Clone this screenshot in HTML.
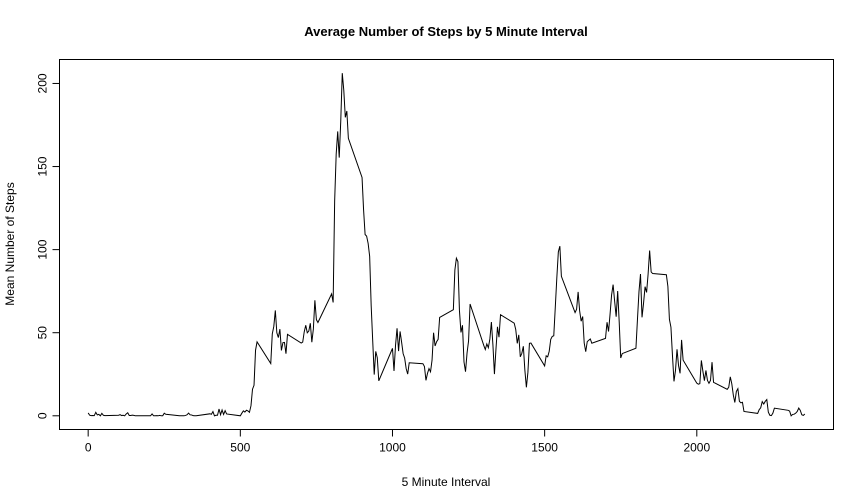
<!DOCTYPE html>
<html><head><meta charset="utf-8"><style>
body{margin:0;background:#fff}
svg{font-family:"Liberation Sans",Arial,sans-serif;display:block}
</style></head><body>
<svg id="chart" width="864" height="504">
<rect width="864" height="504" fill="#fff"/>
<text x="446" y="36" text-anchor="middle" font-size="13" font-weight="bold">Average Number of Steps by 5 Minute Interval</text>
<text x="446" y="486" text-anchor="middle" font-size="12">5 Minute Interval</text>
<text transform="translate(14,244) rotate(-90)" text-anchor="middle" font-size="12">Mean Number of Steps</text>
<rect x="59.5" y="59.5" width="774" height="370" fill="none" stroke="#000"/>
<g id="xaxis"></g>
<g id="yaxis"></g>
<g id="series"></g>
</svg>
<script>
const intervals=[0,5,10,15,20,25,30,35,40,45,50,55,100,105,110,115,120,125,130,135,140,145,150,155,200,205,210,215,220,225,230,235,240,245,250,255,300,305,310,315,320,325,330,335,340,345,350,355,400,405,410,415,420,425,430,435,440,445,450,455,500,505,510,515,520,525,530,535,540,545,550,555,600,605,610,615,620,625,630,635,640,645,650,655,700,705,710,715,720,725,730,735,740,745,750,755,800,805,810,815,820,825,830,835,840,845,850,855,900,905,910,915,920,925,930,935,940,945,950,955,1000,1005,1010,1015,1020,1025,1030,1035,1040,1045,1050,1055,1100,1105,1110,1115,1120,1125,1130,1135,1140,1145,1150,1155,1200,1205,1210,1215,1220,1225,1230,1235,1240,1245,1250,1255,1300,1305,1310,1315,1320,1325,1330,1335,1340,1345,1350,1355,1400,1405,1410,1415,1420,1425,1430,1435,1440,1445,1450,1455,1500,1505,1510,1515,1520,1525,1530,1535,1540,1545,1550,1555,1600,1605,1610,1615,1620,1625,1630,1635,1640,1645,1650,1655,1700,1705,1710,1715,1720,1725,1730,1735,1740,1745,1750,1755,1800,1805,1810,1815,1820,1825,1830,1835,1840,1845,1850,1855,1900,1905,1910,1915,1920,1925,1930,1935,1940,1945,1950,1955,2000,2005,2010,2015,2020,2025,2030,2035,2040,2045,2050,2055,2100,2105,2110,2115,2120,2125,2130,2135,2140,2145,2150,2155,2200,2205,2210,2215,2220,2225,2230,2235,2240,2245,2250,2255,2300,2305,2310,2315,2320,2325,2330,2335,2340,2345,2350,2355];
const meanSteps=[1.72,0.34,0.13,0.15,0.08,2.09,0.53,0.87,0,1.47,0.3,0.13,0.32,0.68,0.15,0.34,0,1.11,1.83,0.17,0.17,0.38,0.26,0,0,0,1.13,0,0,0.13,0,0.23,0,0,1.55,0.94,0,0,0,0,0.21,0.62,1.62,0.58,0.49,0.08,0,0,1.19,0.94,2.57,0,0.34,0.36,4.11,0.66,3.49,0.83,3.11,1.11,0,1.57,3,2.25,3.32,2.96,2.09,6.06,16.02,18.34,39.45,44.49,31.49,49.26,53.77,63.45,49.96,47.08,52.15,39.34,44.02,44.17,37.36,49.04,43.81,44.38,50.51,54.51,49.92,50.98,55.68,44.32,52.26,69.55,57.85,56.15,73.38,68.21,129.43,157.53,171.15,155.4,177.3,206.17,195.92,179.57,183.4,167.02,143.45,124.04,109.11,108.11,103.72,95.96,66.21,45.23,24.79,38.75,34.98,21.06,40.57,26.98,42.42,52.66,38.92,50.79,44.28,37.42,34.7,28.34,25.09,31.94,31.36,29.68,21.32,25.55,28.38,26.47,33.43,49.98,42.04,44.6,46.04,59.19,63.87,87.7,94.85,92.77,63.4,50.17,54.47,32.42,26.53,37.74,45.06,67.28,42.34,39.89,43.26,40.98,46.25,56.43,42.75,25.13,39.96,53.55,47.32,60.81,55.75,51.96,43.58,48.7,35.47,37.55,41.85,27.51,17.11,26.08,43.62,43.77,30.02,36.08,35.49,38.85,45.96,47.75,48.13,65.32,82.91,98.66,102.11,83.96,62.13,64.13,74.55,63.17,56.91,59.77,43.87,38.57,44.66,45.45,46.21,43.68,46.62,56.3,50.72,61.23,72.72,78.94,68.94,59.66,75.09,56.51,34.77,37.45,40.68,58.02,74.7,85.32,59.26,67.77,77.7,74.25,85.34,99.45,86.58,85.6,84.87,77.83,58.04,53.36,36.32,20.72,27.4,40.02,30.21,25.55,45.66,33.53,19.62,19.02,19.34,33.34,26.81,21.17,27.3,21.34,19.55,21.32,32.3,20.15,15.94,17.23,23.45,19.25,12.45,8.02,14.66,16.3,8.68,7.79,8.13,2.62,1.45,3.68,4.81,8.51,7.08,8.7,9.75,2.21,0.32,0.11,1.6,4.6,3.3,2.85,0,0.83,0.96,1.58,2.6,4.7,3.3,0.64,0.23,1.08];
const xTicks=[0,500,1000,1500,2000];
const yTicks=[0,50,100,150,200];
const NS='http://www.w3.org/2000/svg';
const L=59.5,R=833.5,T=59.5,B=429.5;
const xmin0=Math.min(...intervals),xmax0=Math.max(...intervals);
const ymin0=Math.min(...meanSteps),ymax0=Math.max(...meanSteps);
const xp=(xmax0-xmin0)*0.04,yp=(ymax0-ymin0)*0.04;
const sx=v=>L+(v-(xmin0-xp))/((xmax0+xp)-(xmin0-xp))*(R-L);
const sy=v=>B-(v-(ymin0-yp))/((ymax0+yp)-(ymin0-yp))*(B-T);
function mk(t,a,p){const e=document.createElementNS(NS,t);for(const k in a)e.setAttribute(k,a[k]);p.appendChild(e);return e;}
const xa=document.getElementById('xaxis'),ya=document.getElementById('yaxis');
mk('line',{x1:sx(xTicks[0]),x2:sx(xTicks[xTicks.length-1]),y1:B,y2:B,stroke:'#000'},xa);
xTicks.forEach(t=>{const x=sx(t);
mk('line',{x1:x,x2:x,y1:B,y2:B+7,stroke:'#000'},xa);
const tx=mk('text',{x:x,y:B+22,'text-anchor':'middle','font-size':12},xa);tx.textContent=t;

});
mk('line',{x1:L,x2:L,y1:sy(yTicks[0]),y2:sy(yTicks[yTicks.length-1]),stroke:'#000'},ya);
yTicks.forEach(t=>{const y=sy(t);
mk('line',{x1:L,x2:L-7,y1:y,y2:y,stroke:'#000'},ya);
const tx=mk('text',{transform:`translate(${L-13},${y}) rotate(-90)`,'text-anchor':'middle','font-size':12},ya);tx.textContent=t;

});
const pts=intervals.map((v,i)=>sx(v).toFixed(2)+','+sy(meanSteps[i]).toFixed(2)).join(' ');
const pl=mk('polyline',{points:pts,fill:'none',stroke:'#000','stroke-width':1},document.getElementById('series'));


</script>
</body></html>
